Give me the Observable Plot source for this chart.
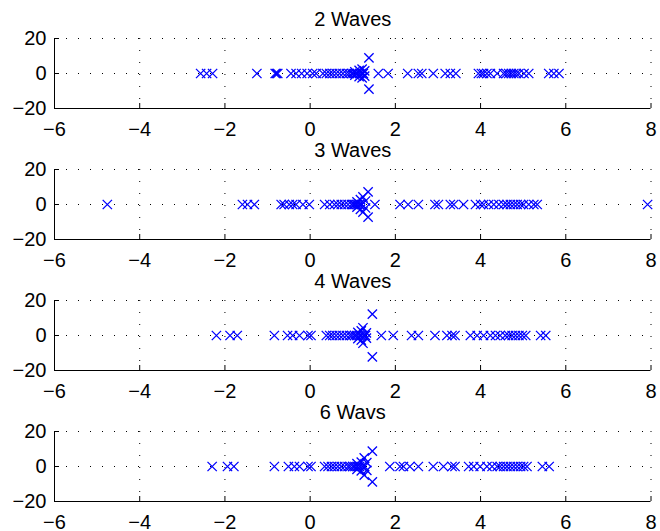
<!DOCTYPE html>
<html>
<head>
<meta charset="utf-8">
<script src="https://cdn.jsdelivr.net/npm/d3@7"></script>
<script src="https://cdn.jsdelivr.net/npm/@observablehq/plot@0.6"></script>
<style>
  body { margin: 0; background: #fff; }
  #fig { position: relative; width: 660px; height: 531px; }
  #fig svg { position: absolute; left: 0; overflow: visible; }
</style>
</head>
<body>
<div id="fig"></div>
<script>
// Panel titles and shared tick values
const titles = ["2 Waves", "3 Waves", "4 Waves", "6 Wavs"];
const xTicks = [-6, -4, -2, 0, 2, 4, 6, 8];
const yTicks = [-20, 0, 20];

// Roots on the real axis (imaginary part 0), one list per panel
const real2 = [-2.57, -2.43, -2.29, -1.25, -0.82, -0.79, -0.76, -0.45, -0.33, -0.2, -0.07, 0.06, 0.14,
  0.3, 0.38, 0.46, 0.53, 0.61, 0.69, 0.77, 0.85, 0.91, 0.97, 1.01, 1.06, 1.11, 1.16, 1.2, 1.25,
  1.6, 1.83, 2.29, 2.54, 2.62, 2.89, 3.17, 3.29, 3.42,
  3.95, 4.02, 4.07, 4.15, 4.23, 4.39, 4.54, 4.6, 4.66, 4.72, 4.78, 4.84, 4.9, 5.02, 5.13,
  5.6, 5.72, 5.84];
const real3 = [-4.76, -1.59, -1.47, -1.31, -0.68, -0.61, -0.49, -0.41, -0.33, -0.17, -0.02,
  0.34, 0.46, 0.57, 0.65, 0.73, 0.81, 0.89, 0.97, 1.01, 1.04, 1.08, 1.12, 1.16, 1.2, 1.52,
  2.11, 2.3, 2.54, 2.93, 3.01, 3.29, 3.37, 3.6,
  3.88, 4.0, 4.07, 4.19, 4.31, 4.43, 4.54, 4.62, 4.7, 4.78, 4.86, 4.94, 5.01, 5.13, 5.25, 5.33,
  7.92];
const real4 = [-2.2, -1.88, -1.71, -0.84, -0.53, -0.41, -0.25, -0.05, 0.02,
  0.38, 0.46, 0.53, 0.61, 0.69, 0.77, 0.85, 0.93, 0.98, 1.04, 1.09, 1.15, 1.2, 1.26, 1.3,
  1.67, 1.95, 2.38, 2.54, 2.93, 3.21, 3.33, 3.4, 3.76, 3.92,
  4.07, 4.23, 4.35, 4.46, 4.58, 4.66, 4.74, 4.82, 4.9, 4.98, 5.06, 5.41, 5.53];
const real6 = [-2.3, -1.94, -1.79, -0.84, -0.51, -0.37, -0.25, -0.05, 0.02,
  0.34, 0.42, 0.5, 0.57, 0.65, 0.73, 0.81, 0.89, 0.94, 1.0, 1.05, 1.11, 1.16, 1.22, 1.28,
  1.87, 2.11, 2.19, 2.34, 2.54, 2.89, 3.13, 3.33, 3.4,
  3.72, 3.84, 3.99, 4.15, 4.27, 4.39, 4.46, 4.54, 4.62, 4.7, 4.78, 4.86, 4.94, 5.01, 5.09,
  5.45, 5.61];

// Complex roots as [real, imaginary]
const cplx2 = [[1.05, 1.0], [1.05, -1.0], [1.15, 1.8], [1.15, -1.8], [1.22, 2.5], [1.22, -2.5],
  [1.28, 1.5], [1.28, -1.5], [1.38, 8.9], [1.38, -8.9]];
const cplx3 = [[1.1, 1.5], [1.1, -1.5], [1.18, 2.8], [1.18, -2.8], [1.24, 4.3], [1.24, -4.3],
  [1.3, 2.0], [1.3, -2.0], [1.36, 7.2], [1.36, -7.2]];
const cplx4 = [[1.12, 1.8], [1.12, -1.8], [1.2, 2.6], [1.2, -2.6], [1.24, 4.4], [1.24, -4.4],
  [1.32, 1.5], [1.32, -1.5], [1.46, 12.2], [1.46, -12.2]];
const cplx6 = [[1.1, 1.6], [1.1, -1.6], [1.2, 2.5], [1.2, -2.5], [1.27, 4.9], [1.27, -4.9],
  [1.33, 2.2], [1.33, -2.2], [1.46, 8.8], [1.46, -8.8]];

const panels = [
  {title: titles[0], real: real2, cplx: cplx2},
  {title: titles[1], real: real3, cplx: cplx3},
  {title: titles[2], real: real4, cplx: cplx4},
  {title: titles[3], real: real6, cplx: cplx6}
];

const font = "'Liberation Sans', Arial, Helvetica, sans-serif";
const panelH = 131, mTop = 38, mBottom = 23, mLeft = 54, mRight = 9.5;
const frameW = 660 - mLeft - mRight, frameH = panelH - mTop - mBottom;
const grid = {stroke: "#000", strokeOpacity: 1, strokeWidth: 1, strokeDasharray: "1,11"};

const fig = document.getElementById("fig");
panels.forEach((p, i) => {
  const pts = p.real.map(x => ({x, y: 0})).concat(p.cplx.map(([x, y]) => ({x, y})));
  // the last panel gets extra room below for its tick labels
  const extra = i === panels.length - 1 ? 7 : 0;
  const svg = Plot.plot({
    width: 660,
    height: panelH + extra,
    marginTop: mTop,
    marginBottom: mBottom + extra,
    marginLeft: mLeft,
    marginRight: mRight,
    style: {fontFamily: font, fontSize: "20px", color: "#000", background: "transparent", overflow: "visible"},
    x: {domain: [-6, 8], axis: null},
    y: {domain: [-20, 20], axis: null},
    marks: [
      Plot.gridX(xTicks, grid),
      Plot.gridY(yTicks, grid),
      Plot.ruleY([-20], {stroke: "#000", strokeWidth: 1}),
      Plot.ruleX([-6], {stroke: "#000", strokeWidth: 1}),
      Plot.tickX(xTicks, {x: d => d, insetTop: frameH - 5, stroke: "#000"}),
      Plot.tickY(yTicks, {y: d => d, insetRight: frameW - 5, stroke: "#000"}),
      Plot.axisX(xTicks, {label: null, tickSize: 0, tickPadding: 13, fontSize: 20, fill: "#000"}),
      Plot.axisY(yTicks, {label: null, tickSize: 0, tickPadding: 8, fontSize: 20, fill: "#000"}),
      Plot.dot(pts, {x: "x", y: "y", symbol: "times", r: 4.3, stroke: "#0000ff", strokeWidth: 1.3}),
      Plot.text([p.title], {frameAnchor: "top", dy: -27, fontSize: 20, fill: "#000"})
    ]
  });
  svg.style.top = (i * panelH) + "px";
  fig.appendChild(svg);
});
</script>
</body>
</html>
